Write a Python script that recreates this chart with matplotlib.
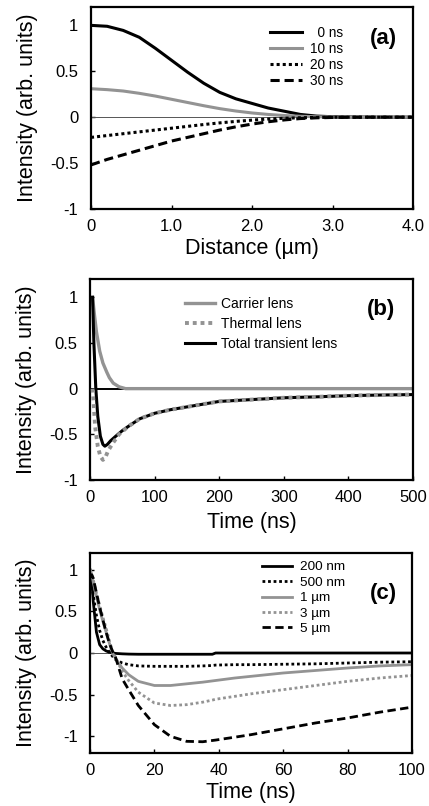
import numpy as np
import matplotlib
matplotlib.use('Agg')
import matplotlib.pyplot as plt

plt.rcParams['font.family'] = ['Liberation Sans', 'DejaVu Sans']
plt.rcParams['axes.unicode_minus'] = False

# region panel (a) data
distance = [0, 0.2, 0.4, 0.6, 0.8, 1.0, 1.2, 1.4, 1.6, 1.8, 2.0, 2.2, 2.4, 2.6, 2.8, 3.0, 3.5, 4.0]
a_0ns = [1.0, 0.99, 0.945, 0.87, 0.75, 0.62, 0.49, 0.37, 0.27, 0.20, 0.15, 0.10, 0.065, 0.03, 0.012, 0.005, 0, 0]
a_10ns = [0.31, 0.30, 0.285, 0.26, 0.23, 0.195, 0.16, 0.125, 0.093, 0.067, 0.046, 0.03, 0.018, 0.01, 0.005, 0.002,
          0, 0]
a_20ns = [-0.22, -0.2, -0.18, -0.16, -0.14, -0.12, -0.1, -0.08, -0.062, -0.046, -0.032, -0.02, -0.012,
          -0.006, -0.003, -0.001, 0, 0]
a_30ns = [-0.52, -0.46, -0.41, -0.36, -0.31, -0.26, -0.22, -0.18, -0.14, -0.105, -0.075, -0.05, -0.03,
          -0.015, -0.007, -0.003, 0, 0]
a_labels = ['  0 ns', '10 ns', '20 ns', '30 ns']
a_xticklabels = ['0', '1.0', '2.0', '3.0', '4.0']
# endregion

# region panel (b) data
carrier_t = [4, 7, 10, 15, 20, 26, 30, 36, 45, 55, 100, 200, 300, 400, 500]
carrier = [1.0, 0.8, 0.62, 0.41, 0.28, 0.18, 0.12, 0.06, 0.02, 0.0, 0.0, 0.0, 0.0, 0.0, 0.0]
thermal_t = [4, 6, 8, 12, 16, 20, 24, 28, 35, 45, 60, 77, 100, 125, 150, 200, 250, 300, 350, 400, 450, 500]
thermal = [0.0, -0.2, -0.42, -0.63, -0.74, -0.78, -0.75, -0.68, -0.6, -0.5, -0.41, -0.33, -0.27, -0.23,
           -0.2, -0.14, -0.12, -0.1, -0.09, -0.077, -0.07, -0.065]
total_t = [4, 6, 9, 12, 16, 20, 23, 27, 32, 40, 50, 60, 77, 100, 125, 150, 200, 250, 300, 350, 400, 450, 500]
total = [1.0, 0.5, 0.0, -0.3, -0.52, -0.61, -0.63, -0.61, -0.57, -0.52, -0.46, -0.41, -0.33, -0.27, -0.23,
         -0.2, -0.14, -0.12, -0.1, -0.09, -0.077, -0.07, -0.065]
b_labels = ['Carrier lens', 'Thermal lens', 'Total transient lens']
# endregion

# region panel (c) data
time_c = [0, 0.5, 1, 2, 3, 4, 5, 6, 7, 8, 10, 12, 15, 20, 25, 30, 35, 38, 39, 45, 50, 60, 70, 80, 90, 100]
c_200nm = [1.0, 0.9, 0.62, 0.25, 0.10, 0.05, 0.025, 0.01, 0.0, -0.005, -0.01, -0.013, -0.015, -0.015, -0.015,
           -0.015, -0.015, -0.015, 0.0, 0.0, 0.0, 0.0, 0.0, 0.0, 0.0, 0.0]
c_500nm = [1.0, 0.85, 0.7, 0.45, 0.27, 0.15, 0.07, 0.01, -0.04, -0.08, -0.12, -0.14, -0.155, -0.16, -0.16,
           -0.16, -0.155, -0.15, -0.145, -0.14, -0.14, -0.135, -0.13, -0.12, -0.11, -0.105]
c_1um = [1.0, 0.95, 0.85, 0.68, 0.52, 0.38, 0.25, 0.12, 0.0, -0.07, -0.18, -0.26, -0.34, -0.39, -0.39, -0.37,
         -0.35, -0.335, -0.33, -0.30, -0.28, -0.24, -0.21, -0.18, -0.155, -0.14]
c_3um = [1.0, 0.95, 0.88, 0.72, 0.57, 0.43, 0.30, 0.15, 0.02, -0.06, -0.22, -0.33, -0.47, -0.60, -0.63, -0.62,
         -0.59, -0.565, -0.555, -0.52, -0.49, -0.44, -0.39, -0.34, -0.30, -0.27]
c_5um = [0.9, 0.94, 0.9, 0.72, 0.55, 0.40, 0.25, 0.12, 0.02, -0.06, -0.31, -0.44, -0.63, -0.86, -1.0, -1.06,
         -1.065, -1.05, -1.045, -1.01, -0.98, -0.91, -0.84, -0.78, -0.71, -0.65]
c_labels = ['200 nm', '500 nm', '1 \u00b5m', '3 \u00b5m', '5 \u00b5m']
# endregion

GRAY = '#939393'
DOT = (0, (1, 1))
DASH = (0, (3, 1.6))

W, H = 429, 806
fig = plt.figure(figsize=(W / 100, H / 100), dpi=100)


def px_axes(left, right, top, bottom):
    return fig.add_axes([left / W, 1 - bottom / H, (right - left) / W, (bottom - top) / H])


def style(ax, xlabel, label_gap):
    for s in ax.spines.values():
        s.set_linewidth(1.6)
    ax.tick_params(direction='in', length=3, width=1, labelsize=12, top=False, right=False)
    ax.tick_params(axis='y', pad=9)
    ax.tick_params(axis='x', pad=7)
    ax.set_yticks([-1, -0.5, 0, 0.5, 1])
    ax.set_yticklabels(['-1', '-0.5', '0', '0.5', '1'])
    ax.set_ylabel('Intensity (arb. units)', fontsize=15.5)
    ax.set_xlabel(xlabel, fontsize=15.5, labelpad=label_gap)
    ax.yaxis.set_label_coords(-0.165, 0.5)


def panel_tag(ax, text, x, y):
    ax.text(x, y, text, transform=ax.transAxes, fontsize=16, fontweight='bold', ha='center', va='center')


# (a)
ax = px_axes(91, 413, 7, 209)
ax.axhline(0, color='#555555', lw=0.7)
ax.plot(distance, a_0ns, color='black', lw=2.2, label=a_labels[0])
ax.plot(distance, a_10ns, color=GRAY, lw=2.2, label=a_labels[1])
ax.plot(distance, a_20ns, color='black', lw=2.2, ls=DOT, label=a_labels[2])
ax.plot(distance, a_30ns, color='black', lw=2.2, ls=DASH, label=a_labels[3])
ax.set_xlim(0, 4)
ax.set_ylim(-1, 1.2)
ax.set_xticks([0, 1, 2, 3, 4])
ax.set_xticklabels(a_xticklabels)
style(ax, 'Distance (\u00b5m)', 3)
ax.legend(loc='upper left', bbox_to_anchor=(0.556, 0.905), frameon=False, fontsize=9.8,
          handlelength=2.35, handletextpad=0.6, labelspacing=0.14, borderpad=0, borderaxespad=0)
panel_tag(ax, '(a)', 0.907, 0.845)

# (b)
ax = px_axes(90, 413, 279, 480)
ax.axhline(0, color='black', lw=1.4)
ax.plot(carrier_t, carrier, color=GRAY, lw=2.4, label=b_labels[0])
ax.plot(total_t, total, color='black', lw=2.2, label=b_labels[2], zorder=2)
ax.plot(thermal_t, thermal, color=GRAY, lw=2.8, ls=DOT, label=b_labels[1], zorder=3)
handles, labels = ax.get_legend_handles_labels()
order = [0, 2, 1]
ax.set_xlim(0, 500)
ax.set_ylim(-1, 1.2)
ax.set_xticks([0, 100, 200, 300, 400, 500])
style(ax, 'Time (ns)', 5)
ax.legend([handles[i] for i in order], [labels[i] for i in order], loc='upper left',
          bbox_to_anchor=(0.294, 0.91), frameon=False, fontsize=10,
          handlelength=2.15, handletextpad=0.48, labelspacing=0.43, borderpad=0, borderaxespad=0)
panel_tag(ax, '(b)', 0.90, 0.846)

# (c)
ax = px_axes(90, 412, 553, 753)
ax.axhline(0, color='#555555', lw=0.7)
ax.plot(time_c, c_200nm, color='black', lw=2.0, label=c_labels[0])
ax.plot(time_c, c_500nm, color='black', lw=2.0, ls=DOT, label=c_labels[1])
ax.plot(time_c, c_1um, color=GRAY, lw=2.0, label=c_labels[2])
ax.plot(time_c, c_3um, color=GRAY, lw=2.0, ls=DOT, label=c_labels[3])
ax.plot(time_c, c_5um, color='black', lw=2.0, ls=DASH, label=c_labels[4])
ax.set_xlim(0, 100)
ax.set_ylim(-1.2, 1.2)
ax.set_xticks([0, 20, 40, 60, 80, 100])
style(ax, 'Time (ns)', 3)
ax.legend(loc='upper left', bbox_to_anchor=(0.534, 0.96), frameon=False, fontsize=9.7,
          handlelength=2.2, handletextpad=0.6, labelspacing=0.22, borderpad=0, borderaxespad=0)
panel_tag(ax, '(c)', 0.91, 0.80)

fig.savefig('out.png', dpi=100)
